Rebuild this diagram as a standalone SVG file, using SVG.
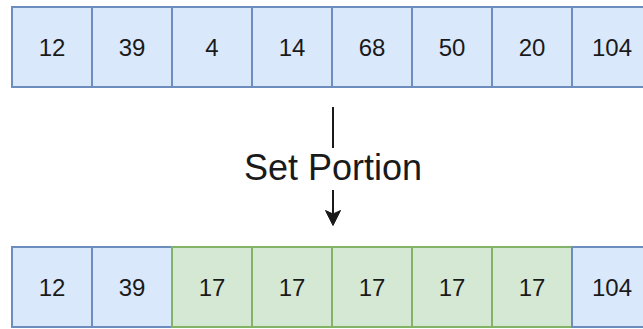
<svg xmlns="http://www.w3.org/2000/svg" width="643" height="329" viewBox="0 0 643 329">
  <style>
    .blue { fill: #dae8fc; stroke: #6c8ebf; stroke-width: 2; }
    .green { fill: #d5e8d4; stroke: #82b366; stroke-width: 2; }
    .num { font-family: "Liberation Sans", Arial, sans-serif; font-size: 24px; fill: #1a1a1a; text-anchor: middle; }
    .label { font-family: "Liberation Sans", Arial, sans-serif; font-size: 36px; fill: #1a1a1a; text-anchor: middle; }
    .edge { stroke: #1a1a1a; stroke-width: 2; fill: none; }
  </style>
  <rect width="643" height="329" fill="#ffffff"/>

  <!-- original array -->
  <g id="top-0"><rect class="blue" x="12" y="7" width="80" height="80"/><text class="num" x="52" y="56">12</text></g>
  <g id="top-1"><rect class="blue" x="92" y="7" width="80" height="80"/><text class="num" x="132" y="56">39</text></g>
  <g id="top-2"><rect class="blue" x="172" y="7" width="80" height="80"/><text class="num" x="212" y="56">4</text></g>
  <g id="top-3"><rect class="blue" x="252" y="7" width="80" height="80"/><text class="num" x="292" y="56">14</text></g>
  <g id="top-4"><rect class="blue" x="332" y="7" width="80" height="80"/><text class="num" x="372" y="56">68</text></g>
  <g id="top-5"><rect class="blue" x="412" y="7" width="80" height="80"/><text class="num" x="452" y="56">50</text></g>
  <g id="top-6"><rect class="blue" x="492" y="7" width="80" height="80"/><text class="num" x="532" y="56">20</text></g>
  <g id="top-7"><rect class="blue" x="572" y="7" width="80" height="80"/><text class="num" x="612" y="56">104</text></g>

  <!-- array after setting a portion -->
  <g id="bottom-0"><rect class="blue" x="12" y="247" width="80" height="80"/><text class="num" x="52" y="296">12</text></g>
  <g id="bottom-1"><rect class="blue" x="92" y="247" width="80" height="80"/><text class="num" x="132" y="296">39</text></g>
  <g id="bottom-2"><rect class="green" x="172" y="247" width="80" height="80"/><text class="num" x="212" y="296">17</text></g>
  <g id="bottom-3"><rect class="green" x="252" y="247" width="80" height="80"/><text class="num" x="292" y="296">17</text></g>
  <g id="bottom-4"><rect class="green" x="332" y="247" width="80" height="80"/><text class="num" x="372" y="296">17</text></g>
  <g id="bottom-5"><rect class="green" x="412" y="247" width="80" height="80"/><text class="num" x="452" y="296">17</text></g>
  <g id="bottom-6"><rect class="green" x="492" y="247" width="80" height="80"/><text class="num" x="532" y="296">17</text></g>
  <g id="bottom-7"><rect class="blue" x="572" y="247" width="80" height="80"/><text class="num" x="612" y="296">104</text></g>

  <!-- connector with label -->
  <g id="connectors">
    <path class="edge" d="M333,107 L333,148"/>
    <path class="edge" d="M333,190 L333,215"/>
    <path d="M333,225.5 L325.5,210.5 L333,214 L340.5,210.5 Z" fill="#1a1a1a" stroke="#1a1a1a" stroke-width="1" stroke-linejoin="miter"/>
    <text class="label" x="333" y="180">Set Portion</text>
  </g>
</svg>
